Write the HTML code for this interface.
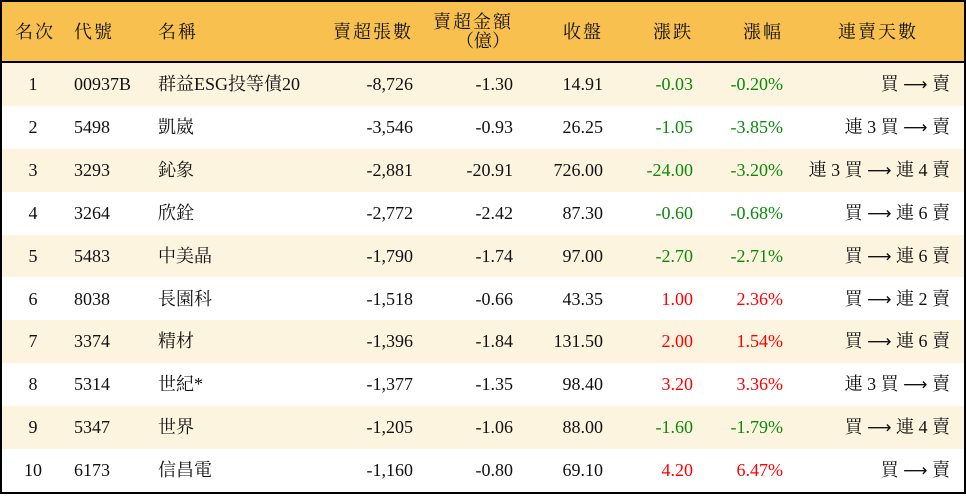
<!DOCTYPE html><html><head><meta charset="utf-8"><style>
body{margin:0;width:966px;height:496px;background:#fff;overflow:hidden}
.t{position:absolute;left:0;top:0;width:962px;height:490px;border:2px solid #000;font-family:"Liberation Serif","Noto Serif CJK SC",serif;font-size:18px;color:#111}
.h{position:absolute;left:0;top:0;width:962px;height:59px;background:#F8C04F;border-bottom:2px solid #000}
.r{position:absolute;left:0;width:962px;height:42.9px}
.c{position:absolute;white-space:nowrap;line-height:20px}
.hd{letter-spacing:2px}
.g{color:#0a8a0a}.rd{color:#f00}
.a{font-family:"DejaVu Sans",sans-serif;font-size:17px}
</style></head><body><div class="t" id="t">
<div class="h"></div>
</div>
<script>
const t=document.getElementById('t');
function c(p,txt,x,y,al,cls){const d=document.createElement('div');d.className='c '+(cls||'');d.innerHTML=txt;d.style.top=y+'px';
if(al=='l')d.style.left=x+'px';else if(al=='r')d.style.right=(962-x)+'px';else{d.style.left=(x-100)+'px';d.style.width='200px';d.style.textAlign='center'}p.appendChild(d);}
const hy=20;
c(t,'名次',13,hy,'l','hd');c(t,'代號',72,hy,'l','hd');c(t,'名稱',156,hy,'l','hd');c(t,'賣超張數',411,hy,'r','hd');
c(t,'賣超金額',511,10,'r','hd');c(t,'（億）',508,29,'r');c(t,'收盤',601,hy,'r','hd');c(t,'漲跌',691,hy,'r','hd');c(t,'漲幅',781,hy,'r','hd');c(t,'連賣天數',876,hy,'c','hd');
const d=[["1","00937B","群益ESG投等債20","-8,726","-1.30","14.91","-0.03","-0.20%","買 → 賣"],
["2","5498","凱崴","-3,546","-0.93","26.25","-1.05","-3.85%","連 3 買 → 賣"],
["3","3293","鈊象","-2,881","-20.91","726.00","-24.00","-3.20%","連 3 買 → 連 4 賣"],
["4","3264","欣銓","-2,772","-2.42","87.30","-0.60","-0.68%","買 → 連 6 賣"],
["5","5483","中美晶","-1,790","-1.74","97.00","-2.70","-2.71%","買 → 連 6 賣"],
["6","8038","長園科","-1,518","-0.66","43.35","1.00","2.36%","買 → 連 2 賣"],
["7","3374","精材","-1,396","-1.84","131.50","2.00","1.54%","買 → 連 6 賣"],
["8","5314","世紀*","-1,377","-1.35","98.40","3.20","3.36%","連 3 買 → 賣"],
["9","5347","世界","-1,205","-1.06","88.00","-1.60","-1.79%","買 → 連 4 賣"],
["10","6173","信昌電","-1,160","-0.80","69.10","4.20","6.47%","買 → 賣"]];
d.forEach((r,i)=>{const row=document.createElement('div');row.className='r';row.style.top=(61+i*42.9)+'px';row.style.background=i%2==0?'#FDF4DF':'#fff';t.appendChild(row);
const y=11;const cl=r[6][0]=='-'?'g':'rd';
c(row,r[0],31,y,'c');c(row,r[1],72,y,'l');c(row,r[2],156,y,'l');c(row,r[3],411,y,'r');c(row,r[4],511,y,'r');c(row,r[5],601,y,'r');
c(row,r[6],691,y,'r',cl);c(row,r[7],781,y,'r',cl);c(row,r[8].replace('→','<span class="a">⟶</span>'),948,y,'r');});
</script></body></html>
